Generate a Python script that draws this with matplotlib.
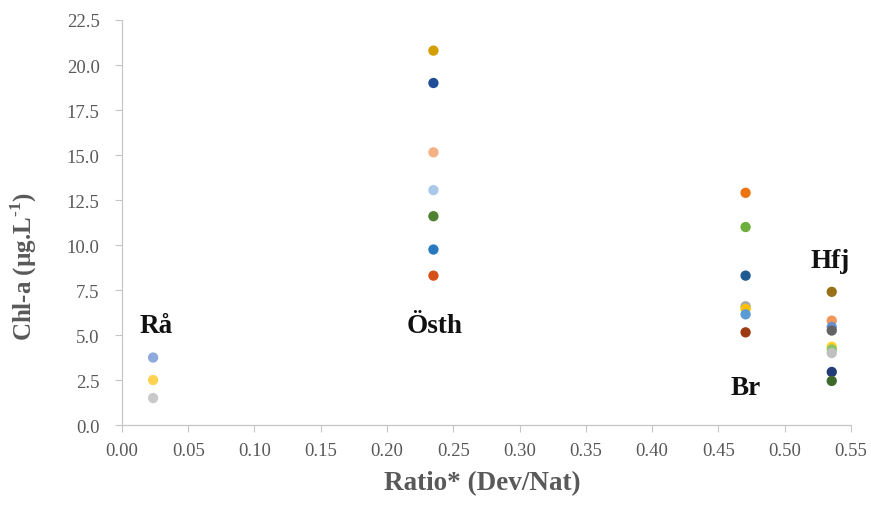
import matplotlib
matplotlib.use("Agg")
import matplotlib.pyplot as plt

plt.rcParams["mathtext.fontset"] = "custom"
plt.rcParams["mathtext.rm"] = "Liberation Serif:bold"
plt.rcParams["mathtext.bf"] = "Liberation Serif:bold"

# Development/natural land ratio per site
sites = ["Rå", "Östh", "Br", "Hfj"]
ratios = [0.0235, 0.235, 0.4705, 0.5355]

# Chl-a samples per site (µg/L)
chla_ra = [3.75, 2.5, 1.5]
chla_osth = [20.8, 19.0, 15.15, 13.05, 11.6, 9.75, 8.3]
chla_br = [12.9, 11.0, 8.3, 6.6, 6.45, 6.15, 5.15]
chla_hfj = [7.4, 5.8, 5.45, 5.25, 4.35, 4.2, 4.0, 2.95, 2.45]

# Marker colours for each sample
colors_ra = ["#8EA9DB", "#FFD34F", "#C9C9C9"]
colors_osth = ["#D39E00", "#1F4E96", "#F4B183", "#A9C8EA", "#4F8132", "#2878C2", "#D4521A"]
colors_br = ["#ED7311", "#6DAF3B", "#1F5A92", "#A9A9A9", "#FFC000", "#5B9BD5", "#9E3A12"]
colors_hfj = ["#9A6F1A", "#F1975A", "#6A8FD1", "#636363", "#FFD21F", "#8CC168", "#C0C0C0", "#223C78", "#3D6A2B"]

# Label positions (data coordinates)
label_xy = [(0.026, 5.55), (0.2355, 5.55), (0.4705, 2.1), (0.5345, 9.15)]

serif = ["Liberation Serif", "DejaVu Serif"]
grey = "#595959"
axis_grey = "#C6C6C6"

fig = plt.figure(figsize=(8.71, 5.06), dpi=100)
ax = fig.add_axes([0.140, 0.158, 0.837, 0.8005])

groups = [
    (ratios[0], chla_ra, colors_ra),
    (ratios[1], chla_osth, colors_osth),
    (ratios[2], chla_br, colors_br),
    (ratios[3], chla_hfj, colors_hfj),
]
for x, vals, cols in groups:
    ax.scatter([x] * len(vals), vals, c=cols, s=55, linewidths=0, zorder=3)

for name, (lx, ly) in zip(sites, label_xy):
    ax.text(lx, ly, name, ha="center", va="center", fontsize=19.5,
            fontweight="bold", family=serif, color="#111111")

ax.set_xlim(0, 0.55)
ax.set_ylim(0, 22.5)
ax.set_xticks([i * 0.05 for i in range(12)])
ax.set_yticks([i * 2.5 for i in range(10)])
ax.set_xticklabels([f"{i * 0.05:.2f}" for i in range(12)])
ax.set_yticklabels([f"{i * 2.5:.1f}" for i in range(10)])

for lab in ax.get_xticklabels() + ax.get_yticklabels():
    lab.set_family(serif)
    lab.set_fontsize(13.5)
    lab.set_color(grey)

ax.tick_params(axis="both", direction="out", length=5, width=0.8,
               color=axis_grey)
ax.tick_params(axis="y", pad=11)
ax.tick_params(axis="x", pad=7)
for side in ["top", "right"]:
    ax.spines[side].set_visible(False)
for side in ["left", "bottom"]:
    ax.spines[side].set_color(axis_grey)
    ax.spines[side].set_linewidth(0.9)

fig.text(482 / 871, 1 - 484 / 506, "Ratio* (Dev/Nat)", family=serif,
         fontsize=19.5, fontweight="bold", color=grey,
         ha="center", va="center")
fig.text(24 / 871, 1 - 267 / 506, r"Chl-a (µg.L$^{\text{-1}}$)",
         family=serif, fontsize=18, fontweight="bold", color=grey,
         rotation=90, ha="center", va="center")

fig.savefig("out.png", dpi=100)
